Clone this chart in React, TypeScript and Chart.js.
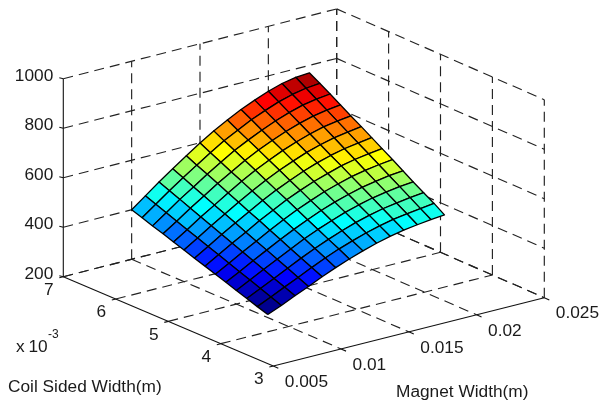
import React, { useEffect, useRef } from "react";
import { Chart, registerables } from "chart.js";

Chart.register(...registerables);

const magnetWidths = [0.01, 0.011, 0.012, 0.013, 0.014, 0.015, 0.016, 0.017, 0.018, 0.019, 0.02, 0.021, 0.022, 0.023];
const coilWidths = [4.4, 4.6, 4.8, 5.0, 5.2, 5.4, 5.6, 5.8, 6.0, 6.2, 6.4, 6.6, 6.8, 7.0];
// one row per coil width, one column per magnet width
const torqueRows = [
  [212, 235, 260, 284, 309, 332, 353, 372, 389, 403, 414, 422, 429, 434],
  [226, 251, 277, 302, 328, 353, 375, 394, 412, 427, 439, 448, 455, 462],
  [241, 267, 294, 321, 348, 373, 396, 417, 436, 451, 464, 473, 481, 487],
  [255, 283, 312, 339, 367, 394, 418, 439, 459, 475, 489, 499, 507, 512],
  [270, 299, 329, 358, 387, 414, 439, 462, 482, 499, 514, 524, 533, 539],
  [284, 315, 346, 376, 406, 435, 461, 484, 506, 523, 539, 550, 559, 566],
  [299, 331, 363, 394, 426, 455, 483, 507, 529, 547, 564, 576, 585, 592],
  [313, 346, 381, 413, 445, 476, 504, 529, 552, 572, 588, 601, 610, 618],
  [328, 362, 398, 431, 465, 496, 526, 552, 575, 596, 613, 627, 636, 644],
  [342, 378, 415, 449, 484, 517, 548, 574, 599, 620, 638, 653, 662, 669],
  [357, 394, 432, 468, 504, 537, 569, 597, 622, 644, 663, 678, 688, 695],
  [371, 410, 450, 486, 523, 558, 591, 619, 645, 668, 688, 704, 714, 721],
  [386, 426, 467, 505, 542, 578, 612, 641, 669, 692, 713, 729, 740, 746],
  [400, 442, 484, 523, 562, 599, 634, 664, 692, 716, 738, 755, 766, 770],
];
const zTicks = [200, 400, 600, 800, 1000];
const magnetTicks = [0.005, 0.01, 0.015, 0.02, 0.025];
const magnetTickLabels = ["0.005", "0.01", "0.015", "0.02", "0.025"];
const coilTicks = [3, 4, 5, 6, 7];

const FONT = '"Liberation Sans", Arial, sans-serif';
const INK = "#1a1a1a";
const TEXT_SIZE = 17.3;

type P = { x: number; y: number };

function project(m: number, c: number, z: number): P {
  const u = (m - 0.005) / 0.02;
  const v = (c - 3) / 4;
  const lerp = (a: number, b: number, t: number) => a + (b - a) * t;
  const x = lerp(lerp(273.3, 544.3, u), lerp(63.3, 336.7, u), v);
  const y = lerp(lerp(366, 297.7, u), lerp(276.7, 206.9, u), v);
  return { x, y: y - (z - 200) * 0.2475 };
}

function jet(t: number): string {
  const idx = Math.min(63, Math.max(0, Math.floor(t * 64)));
  const s = (idx + 1) / 64;
  const ch = (k: number) => Math.round(255 * Math.min(1, Math.max(0, 1.5 - Math.abs(4 * s - k))));
  return `rgb(${ch(3)},${ch(2)},${ch(1)})`;
}

function buildDatasets() {
  const flat = torqueRows.flat();
  const lo = Math.min(...flat);
  const hi = Math.max(...flat);
  const cells: any[] = [];
  for (let sum = 0; sum <= 2 * (magnetWidths.length - 2); sum++) {
    for (let j = 0; j < coilWidths.length - 1; j++) {
      const i = sum - j;
      if (i < 0 || i >= magnetWidths.length - 1) continue;
      const pts = [
        project(magnetWidths[i], coilWidths[j], torqueRows[j][i]),
        project(magnetWidths[i + 1], coilWidths[j], torqueRows[j][i + 1]),
        project(magnetWidths[i + 1], coilWidths[j + 1], torqueRows[j + 1][i + 1]),
        project(magnetWidths[i], coilWidths[j + 1], torqueRows[j + 1][i]),
      ];
      pts.push(pts[0]);
      cells.push({
        data: pts,
        showLine: true,
        fill: "shape",
        backgroundColor: jet((torqueRows[j][i] - lo) / (hi - lo)),
        borderColor: "#000",
        borderWidth: 1.3,
        pointRadius: 0,
        tension: 0,
        borderJoinStyle: "round",
      });
    }
  }

  const line = (a: P, b: P, dashed: boolean) => ({
    data: [a, b],
    showLine: true,
    fill: false,
    borderColor: dashed ? "#222" : "#111",
    borderWidth: dashed ? 1.15 : 1.1,
    borderDash: dashed ? [10, 6] : [],
    pointRadius: 0,
    tension: 0,
  });
  const [zMin, zMax] = [zTicks[0], zTicks[zTicks.length - 1]];
  const [mMin, mMax] = [magnetTicks[0], magnetTicks[magnetTicks.length - 1]];
  const [cMin, cMax] = [coilTicks[0], coilTicks[coilTicks.length - 1]];
  const axes: any[] = [
    line(project(mMin, cMax, zMin), project(mMin, cMax, zMax), false),
    line(project(mMin, cMax, zMin), project(mMin, cMin, zMin), false),
    line(project(mMin, cMin, zMin), project(mMax, cMin, zMin), false),
  ];
  for (const z of zTicks) {
    const p = project(mMin, cMax, z);
    axes.push(line(p, { x: p.x - 4, y: p.y - 1 }, false));
  }
  for (const m of magnetTicks) {
    const p = project(m, cMin, zMin);
    axes.push(line(p, { x: p.x + 5, y: p.y + 2.2 }, false));
  }
  for (const c of coilTicks) {
    const p = project(mMin, c, zMin);
    axes.push(line(p, { x: p.x - 4, y: p.y + 1 }, false));
  }
  const grid: any[] = [];
  for (const z of zTicks) {
    grid.push(line(project(mMin, cMax, z), project(mMax, cMax, z), true));
    grid.push(line(project(mMax, cMax, z), project(mMax, cMin, z), true));
  }
  for (const m of magnetTicks) {
    if (m !== mMin) grid.push(line(project(m, cMax, zMin), project(m, cMax, zMax), true));
    if (m !== mMin) grid.push(line(project(m, cMax, zMin), project(m, cMin, zMin), true));
  }
  for (const c of coilTicks) {
    if (c !== cMin) grid.push(line(project(mMin, c, zMin), project(mMax, c, zMin), true));
    grid.push(line(project(mMax, c, zMin), project(mMax, c, zMax), true));
  }
  return [...cells, ...axes, ...grid];
}

const textPlugin = {
  id: "axisText",
  afterDraw(chart: any) {
    const { ctx, scales } = chart;
    const put = (s: string, p: P, align: CanvasTextAlign, size = TEXT_SIZE) => {
      ctx.font = `${size}px ${FONT}`;
      ctx.textAlign = align;
      ctx.textBaseline = "middle";
      ctx.fillStyle = INK;
      ctx.fillText(s, scales.x.getPixelForValue(p.x), scales.y.getPixelForValue(p.y));
    };
    ctx.save();
    for (const z of zTicks) {
      const p = project(magnetTicks[0], coilTicks[4], z);
      put(String(z), { x: p.x - 10, y: p.y - 2.5 }, "right");
    }
    magnetTicks.forEach((m, k) => {
      const p = project(m, coilTicks[0], zTicks[0]);
      put(magnetTickLabels[k], { x: p.x + 11.5, y: p.y + 16 }, "left");
    });
    for (const c of coilTicks) {
      const p = project(magnetTicks[0], c, zTicks[0]);
      put(String(c), { x: p.x - 14.5, y: p.y + 13.5 }, "center");
    }
    put("x", { x: 16, y: 347 }, "left");
    put("10", { x: 28.5, y: 347 }, "left");
    put("-3", { x: 48, y: 335 }, "left", 12);
    put("Coil Sided Width(m)", { x: 8, y: 387 }, "left");
    put("Magnet Width(m)", { x: 396, y: 392 }, "left");
    ctx.restore();
  },
};

export default function App() {
  const ref = useRef<HTMLCanvasElement>(null);
  useEffect(() => {
    const chart = new Chart(ref.current!, {
      type: "scatter",
      data: { datasets: buildDatasets() },
      options: {
        animation: false,
        responsive: false,
        events: [],
        layout: { padding: 0 },
        plugins: { legend: { display: false }, tooltip: { enabled: false }, title: { display: false } },
        scales: {
          x: { type: "linear", min: 0, max: 615, display: false },
          y: { type: "linear", min: 0, max: 405, reverse: true, display: false },
        },
      },
      plugins: [textPlugin],
    } as any);
    return () => chart.destroy();
  }, []);
  return (
    <div style={{ position: "fixed", left: 0, top: 0, width: 615, height: 405, background: "#fff" }}>
      <canvas ref={ref} width={615} height={405} style={{ display: "block" }} />
    </div>
  );
}
